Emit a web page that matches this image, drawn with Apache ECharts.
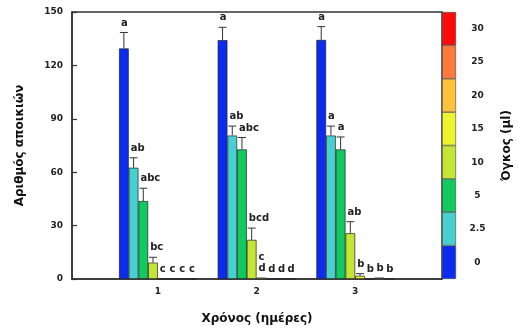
<!DOCTYPE html>
<html><head><meta charset="utf-8">
<script src="https://cdn.jsdelivr.net/npm/echarts@6/dist/echarts.min.js"></script>
<style>html,body{margin:0;padding:0;background:#fff}#c{width:518px;height:331px}</style>
</head><body><div id="c"></div>
<script>
// ---- data ----
const days = [1, 2, 3];
const volumes = ['0', '2.5', '5', '10', '15', '20', '25', '30'];
const mean_0   = [129.5, 134.2, 134.3];
const mean_2_5 = [62.5, 80.6, 80.6];
const mean_5   = [43.8, 72.8, 72.8];
const mean_10  = [9.2, 22.0, 25.7];
const mean_15  = [0, 0.8, 1.8];
const mean_20  = [0, 0, 0];
const mean_25  = [0, 0, 0.8];
const mean_30  = [0, 0, 0];
const err_0   = [9.0, 7.2, 7.5];
const err_2_5 = [5.6, 5.3, 5.3];
const err_5   = [7.2, 6.7, 7.0];
const err_10  = [3.0, 6.6, 6.5];
const err_15  = [0, 0, 1.2];
const err_20  = [0, 0, 0];
const err_25  = [0, 0, 0];
const err_30  = [0, 0, 0];
const letters_0   = ['a', 'a', 'a'];
const letters_2_5 = ['ab', 'ab', 'a'];
const letters_5   = ['abc', 'abc', 'a'];
const letters_10  = ['bc', 'bcd', 'ab'];
const letters_15  = ['c', 'c\nd', 'b'];
const letters_20  = ['c', 'd', 'b'];
const letters_25  = ['c', 'd', 'b'];
const letters_30  = ['c', 'd', 'b'];

// ---- styles ----
const colors = ['#0b2bf0', '#48cfcf', '#10c95f', '#c3e534', '#eef330', '#fdc13c', '#fd7a3a', '#ff0a0a'];
const FONT = '"DejaVu Sans", sans-serif';
const BW = 9.7;

const means = [mean_0, mean_2_5, mean_5, mean_10, mean_15, mean_20, mean_25, mean_30];
const errs = [err_0, err_2_5, err_5, err_10, err_15, err_20, err_25, err_30];
const letters = [letters_0, letters_2_5, letters_5, letters_10, letters_15, letters_20, letters_25, letters_30];

const barSeries = volumes.map((v, i) => ({
  type: 'bar', name: v, xAxisIndex: 0, yAxisIndex: 0,
  data: days.map((d, j) => [d, means[i][j]]),
  barWidth: BW, barGap: '0%',
  itemStyle: { color: colors[i], borderColor: '#222', borderWidth: 0.7 },
  silent: true
}));

const errData = [];
volumes.forEach((v, i) => days.forEach((d, j) => errData.push([d, means[i][j], errs[i][j], i, j])));

const errSeries = {
  type: 'custom', xAxisIndex: 0, yAxisIndex: 0, data: errData,
  encode: { x: 0, y: 1 }, z: 5, silent: true,
  renderItem(params, api) {
    const x = api.value(0), m = api.value(1), e = api.value(2), i = api.value(3), j = api.value(4);
    const base = api.coord([x, 0]);
    const top = api.coord([x, m]);
    const et = api.coord([x, m + e]);
    const cx = base[0] + (i - 3.5) * BW;
    const children = [];
    if (e > 0) {
      children.push({ type: 'line', shape: { x1: cx, y1: top[1], x2: cx, y2: et[1] }, style: { stroke: '#333', lineWidth: 1 } });
      children.push({ type: 'line', shape: { x1: cx - 4, y1: et[1], x2: cx + 4, y2: et[1] }, style: { stroke: '#333', lineWidth: 1 } });
    }
    children.push({ type: 'text', x: cx - BW / 2 + 2, y: et[1] - 4,
      style: { text: letters[i][j], font: 'bold 10px ' + FONT, fill: '#222', align: 'left', verticalAlign: 'bottom', lineHeight: 11 } });
    return { type: 'group', children };
  }
};

const scaleSeries = {
  type: 'bar', xAxisIndex: 1, yAxisIndex: 1, silent: true,
  barCategoryGap: '0%',
  data: volumes.map((v, i) => ({ value: 1, itemStyle: { color: colors[i] } })),
  itemStyle: { borderColor: '#444', borderWidth: 0.6 }
};

const chart = echarts.init(document.getElementById('c'), null, { renderer: 'canvas' });
chart.setOption({
  animation: false,
  backgroundColor: '#fff',
  grid: [
    { left: 72, top: 12, width: 370, height: 267, show: true, borderColor: '#333', borderWidth: 1.5, backgroundColor: 'transparent' },
    { left: 442, top: 12, width: 14, height: 267 }
  ],
  xAxis: [
    { type: 'value', gridIndex: 0, min: 0.13, max: 3.88,
      axisLine: { show: true, lineStyle: { color: '#333', width: 1.5 } },
      axisTick: { show: false }, splitLine: { show: false },
      axisLabel: { customValues: days, margin: 8, color: '#222', fontFamily: FONT, fontWeight: 'bold', fontSize: 9 },
      name: 'Χρόνος (ημέρες)', nameLocation: 'middle', nameGap: 34,
      nameTextStyle: { color: '#111', fontFamily: FONT, fontWeight: 'bold', fontSize: 12 } },
    { type: 'value', gridIndex: 1, min: 0, max: 1, show: false }
  ],
  yAxis: [
    { type: 'value', gridIndex: 0, min: 0, max: 150, interval: 30,
      axisLine: { show: true, lineStyle: { color: '#333', width: 1.5 } },
      axisTick: { show: true, inside: true, length: 5, lineStyle: { color: '#333', width: 1.2 } },
      splitLine: { show: false },
      axisLabel: { margin: 9, color: '#222', fontFamily: FONT, fontWeight: 'bold', fontSize: 9 },
      name: 'Αριθμός αποικιών', nameLocation: 'middle', nameGap: 46,
      nameTextStyle: { color: '#111', fontFamily: FONT, fontWeight: 'bold', fontSize: 12 } },
    { type: 'category', gridIndex: 1, data: volumes, position: 'right',
      axisLine: { show: false }, axisTick: { show: false },
      axisLabel: { align: 'center', margin: 21.5, color: '#222', fontFamily: FONT, fontWeight: 'bold', fontSize: 9 },
      name: 'Όγκος (μl)', nameLocation: 'middle', nameGap: 45,
      nameTextStyle: { color: '#111', fontFamily: FONT, fontWeight: 'bold', fontSize: 12 } }
  ],
  series: [...barSeries, errSeries, scaleSeries]
});
</script>
</body></html>
